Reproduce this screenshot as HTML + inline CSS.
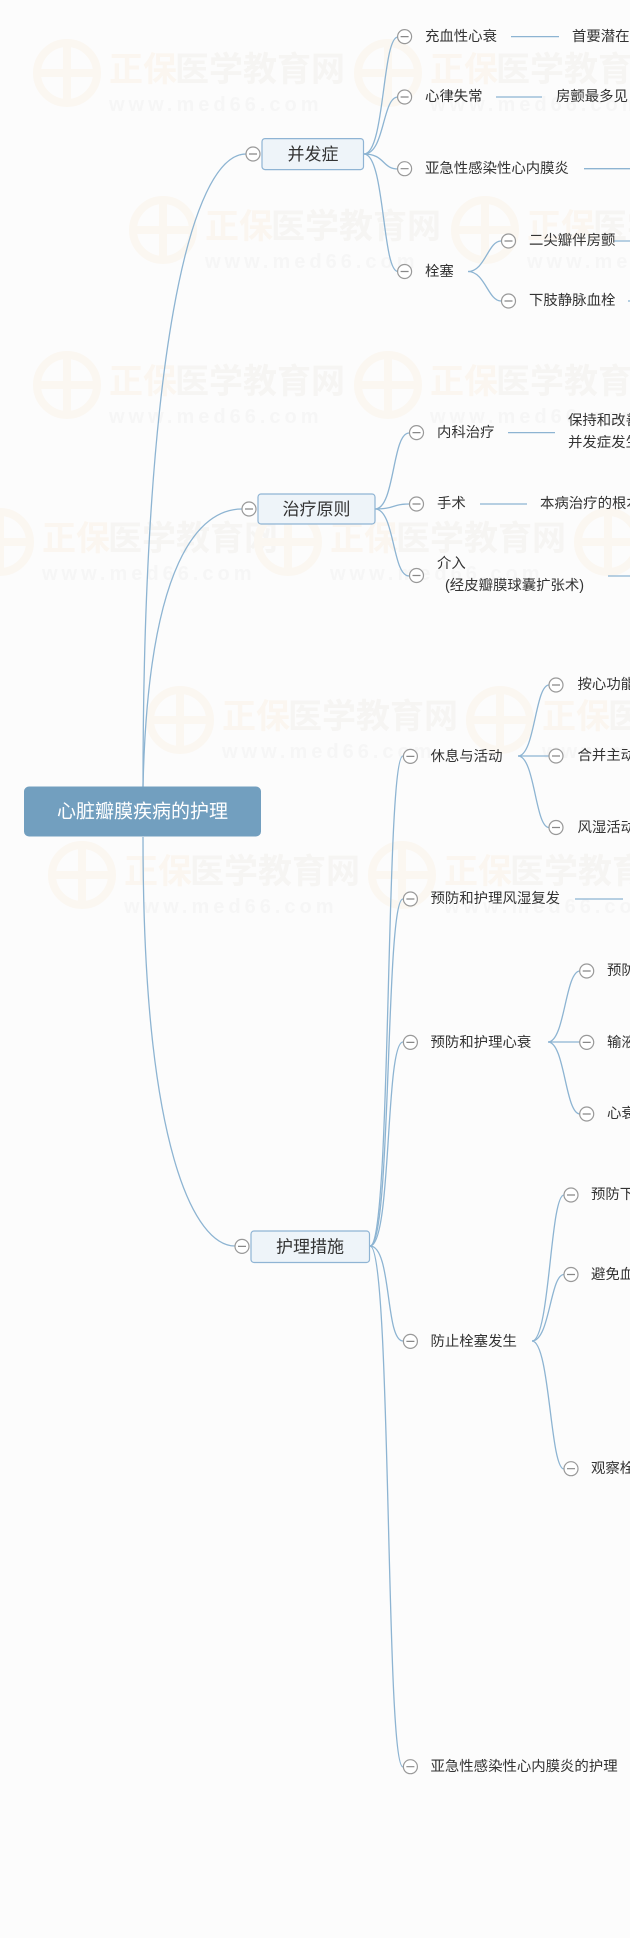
<!DOCTYPE html>
<html><head><meta charset="utf-8"><style>
html,body{margin:0;padding:0;width:630px;height:1938px;overflow:hidden;background:#fcfcfc;}
svg{display:block}
text{font-family:"Liberation Sans","Noto Sans CJK SC",sans-serif;fill:#333;}
.wm{fill:#eeeae6;font-size:34px;font-weight:bold}
.wm2{fill:#eeeeee;font-size:20px;font-weight:bold;letter-spacing:4px}
.wmo{fill:#f9eedf;font-size:34px;font-weight:bold}
</style></head><body>
<svg width="630" height="1938" viewBox="0 0 630 1938" xmlns="http://www.w3.org/2000/svg">
<defs>
<g id="wmk">
<circle cx="30" cy="30" r="30" fill="none" stroke="#faefe0" stroke-width="8"/>
<rect x="26" y="2" width="8" height="56" fill="#faefe0"/>
<rect x="2" y="26" width="56" height="8" fill="#faefe0"/>
<text x="72" y="38" class="wmo">正保</text>
<text x="138" y="38" class="wm">医学教育网</text>
<text x="72" y="68" class="wm2">www.med66.com</text>
</g>
</defs>
<g opacity="0.4">
<use href="#wmk" x="37" y="43"/>
<use href="#wmk" x="358" y="43"/>
<use href="#wmk" x="133" y="200"/>
<use href="#wmk" x="455" y="200"/>
<use href="#wmk" x="37" y="355"/>
<use href="#wmk" x="358" y="355"/>
<use href="#wmk" x="-30" y="512"/>
<use href="#wmk" x="258" y="512"/>
<use href="#wmk" x="578" y="512"/>
<use href="#wmk" x="150" y="690"/>
<use href="#wmk" x="470" y="690"/>
<use href="#wmk" x="52" y="845"/>
<use href="#wmk" x="372" y="845"/>
</g>

<g fill="none" stroke="#8db4d2" stroke-width="1.3">
<path d="M143,787 C143,360 190,154 246,154"/>
<path d="M143,787 C148,560 200,509 242,509"/>
<path d="M143,837 C143,1150 195,1246 235,1246"/>
<path d="M364,154 C385,154 382,37 398,37"/>
<path d="M364,154 C385,154 382,97 398,97"/>
<path d="M364,154 C385,154 382,169 398,169"/>
<path d="M364,154 C385,154 382,271.5 398,271.5"/>
<path d="M468,271.5 C485,271.5 488,241 501,241"/>
<path d="M468,271.5 C485,271.5 488,301 501,301"/>
<path d="M375,509 C395,509 392,433 409,433"/>
<path d="M375,509 C395,509 392,504 409,504"/>
<path d="M375,509 C395,509 392,576 409,576"/>
<path d="M370,1246 C392,1246 385,756 403,756"/>
<path d="M370,1246 C392,1246 385,899 403,899"/>
<path d="M370,1246 C392,1246 385,1042 403,1042"/>
<path d="M370,1246 C392,1246 385,1341 403,1341"/>
<path d="M370,1246 C392,1246 385,1767 403,1767"/>
<path d="M518,756 C535,756 535,685 549,685"/>
<path d="M518,756 L549,756"/>
<path d="M518,756 C535,756 535,827.5 549,827.5"/>
<path d="M548,1042 C565,1042 565,971 580,971"/>
<path d="M548,1042 L580,1042"/>
<path d="M548,1042 C565,1042 565,1114 580,1114"/>
<path d="M532,1341 C550,1341 550,1195 564,1195"/>
<path d="M532,1341 C550,1341 550,1274.5 564,1274.5"/>
<path d="M532,1341 C550,1341 550,1469 564,1469"/>
<path d="M511,36.6 H559"/>
<path d="M496,97 H542"/>
<path d="M584,168.7 H640"/>
<path d="M614,241 H640"/>
<path d="M628,301 H640"/>
<path d="M508,432.6 H555"/>
<path d="M480,504 H527"/>
<path d="M608,576 H640"/>
<path d="M575,899 H623"/>
</g>

<rect x="24" y="786.5" width="237" height="50" rx="5" fill="#729fbf"/>
<text x="142.5" y="812" font-size="19" text-anchor="middle" dominant-baseline="central" style="fill:#fff">心脏瓣膜疾病的护理</text>
<g fill="#eef4f9" stroke="#8fb4d4" stroke-width="1.2">
<rect x="262" y="138.6" width="101.5" height="31" rx="3"/>
<rect x="258" y="494" width="117" height="30" rx="3"/>
<rect x="251" y="1231" width="118.5" height="31.5" rx="3"/>
</g>
<g font-size="17" text-anchor="middle" dominant-baseline="central">
<text x="313" y="154.5">并发症</text>
<text x="316.5" y="509.5">治疗原则</text>
<text x="310" y="1247">护理措施</text>
</g>

<g fill="#fff" stroke="#999" stroke-width="1.2">
<circle cx="253" cy="154" r="7"/><circle cx="249" cy="509" r="7"/><circle cx="242" cy="1246.4" r="7"/>
<circle cx="404.6" cy="36.6" r="7"/><circle cx="404.6" cy="97" r="7"/><circle cx="404.6" cy="168.7" r="7"/><circle cx="404.6" cy="271.5" r="7"/>
<circle cx="508.5" cy="241" r="7"/><circle cx="508.5" cy="301" r="7"/>
<circle cx="416.5" cy="432.6" r="7"/><circle cx="416.5" cy="504" r="7"/><circle cx="416.5" cy="575.5" r="7"/>
<circle cx="410.4" cy="756.4" r="7"/><circle cx="410.4" cy="899" r="7"/><circle cx="410.4" cy="1042.4" r="7"/><circle cx="410.4" cy="1341.4" r="7"/><circle cx="410.4" cy="1766.7" r="7"/>
<circle cx="556" cy="685" r="7"/><circle cx="556" cy="756" r="7"/><circle cx="556" cy="827.5" r="7"/>
<circle cx="586.7" cy="971" r="7"/><circle cx="586.7" cy="1042.4" r="7"/><circle cx="586.7" cy="1114" r="7"/>
<circle cx="571" cy="1195" r="7"/><circle cx="571" cy="1274.5" r="7"/><circle cx="571" cy="1468.7" r="7"/>
</g>
<g stroke="#888" stroke-width="1.2">
<path d="M249,154H257M245,509H253M238,1246.4H246M400.6,36.6H408.6M400.6,97H408.6M400.6,168.7H408.6M400.6,271.5H408.6M504.5,241H512.5M504.5,301H512.5M412.5,432.6H420.5M412.5,504H420.5M412.5,575.5H420.5M406.4,756.4H414.4M406.4,899H414.4M406.4,1042.4H414.4M406.4,1341.4H414.4M406.4,1766.7H414.4M552,685H560M552,756H560M552,827.5H560M582.7,971H590.7M582.7,1042.4H590.7M582.7,1114H590.7M567,1195H575M567,1274.5H575M567,1468.7H575"/>
</g>

<g font-size="14.4" dominant-baseline="central">
<text x="425" y="37">充血性心衰</text>
<text x="572" y="37">首要潜在并发症</text>
<text x="425" y="97">心律失常</text>
<text x="556" y="97">房颤最多见</text>
<text x="425" y="169">亚急性感染性心内膜炎</text>
<text x="425" y="272">栓塞</text>
<text x="529" y="241">二尖瓣伴房颤</text>
<text x="529" y="301">下肢静脉血栓</text>
<text x="437" y="433">内科治疗</text>
<text x="568" y="421">保持和改善心功能</text>
<text x="568" y="443">并发症发生</text>
<text x="437" y="504">手术</text>
<text x="540" y="504">本病治疗的根本方法</text>
<text x="437" y="564">介入</text>
<text x="445" y="586">(经皮瓣膜球囊扩张术)</text>
<text x="430.5" y="757">休息与活动</text>
<text x="577.5" y="685">按心功能</text>
<text x="577.5" y="756">合并主动脉</text>
<text x="577.5" y="828">风湿活动</text>
<text x="430.5" y="899">预防和护理风湿复发</text>
<text x="430.5" y="1043">预防和护理心衰</text>
<text x="607" y="971">预防</text>
<text x="607" y="1043">输液</text>
<text x="607" y="1114">心衰</text>
<text x="430.5" y="1342">防止栓塞发生</text>
<text x="591" y="1195">预防下</text>
<text x="591" y="1275">避免血</text>
<text x="591" y="1469">观察栓</text>
<text x="430.5" y="1767">亚急性感染性心内膜炎的护理</text>
</g>
</svg>
</body></html>
